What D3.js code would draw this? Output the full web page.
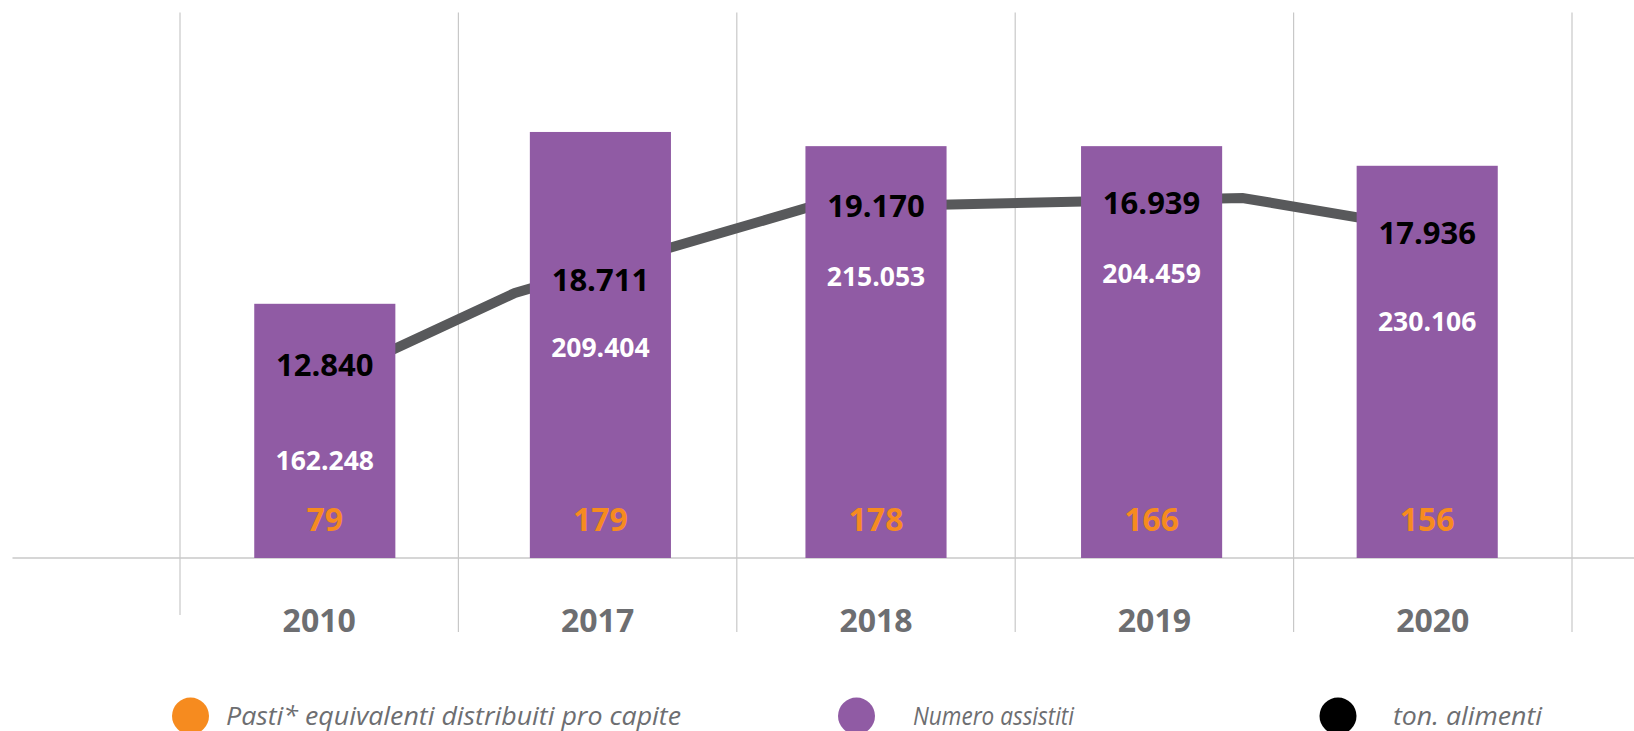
<!DOCTYPE html>
<html>
<head>
<meta charset="utf-8">
<script src="https://cdn.jsdelivr.net/npm/d3@7"></script>
<style>
  body { margin: 0; background: #fff; }
  text { font-family: "Open Sans", sans-serif; }
</style>
</head>
<body>
<div id="plot"></div>
<script>
// values printed on the chart
const years = ["2010", "2017", "2018", "2019", "2020"];
const pastiProCapite = [79, 179, 178, 166, 156];
const numeroAssistiti = [162248, 209404, 215053, 204459, 230106];
const tonAlimenti = [12840, 18711, 19170, 16939, 17936];

// bar heights and the grey line are decorative in the original,
// read off the picture as % of the plot height
const barLevel = [46.6, 78.1, 75.5, 75.5, 71.9];
const linePos = [0, 0.69, 1.75, 3.33, 4];
const lineLevel = [32.4, 48.6, 64.2, 66.0, 60.3];

const seriesNames = ["Pasti* equivalenti distribuiti pro capite", "Numero assistiti", "ton. alimenti"];

const W = 1634, H = 731;
const purple = "#905BA4", orange = "#F68B1F", lineGrey = "#58595B", textGrey = "#6D6E71", gridGrey = "#C8C8C8";

const it = d3.formatLocale({ decimal: ",", thousands: ".", grouping: [3], currency: ["", "€"] });
const fmt = it.format(",d");

const svg = d3.select("#plot")
              .append("svg")
              .attr("width", W)
              .attr("height", H)
              .style("display", "block");

// scales
const x = d3.scaleBand()
            .domain(years)
            .range([187, 1565])
            .paddingInner(0.488)
            .paddingOuter(0.244);
const xGrid = d3.scaleBand()
                .domain(years)
                .range([180, 1572]);
const y = d3.scaleLinear()
            .domain([0, 100])
            .range([558, 12.5]);
const xLine = d3.scaleLinear()
                .domain([0, years.length - 1])
                .range([x(years[0]) + x.bandwidth() / 2, x(years[years.length - 1]) + x.bandwidth() / 2]);

// vertical grid lines at category boundaries
const bounds = years.map(d => xGrid(d)).concat([xGrid(years[years.length - 1]) + xGrid.bandwidth()]);
svg.selectAll("line.vgrid")
   .data(bounds)
   .enter()
   .append("line")
   .attr("class", "vgrid")
   .attr("x1", d => d)
   .attr("x2", d => d)
   .attr("y1", y(100))
   .attr("y2", (d, i) => i === 0 ? 615 : 632)
   .attr("stroke", gridGrey)
   .attr("stroke-width", 1.2);

// baseline
svg.append("line")
   .attr("x1", 12.5)
   .attr("x2", W)
   .attr("y1", y(0))
   .attr("y2", y(0))
   .attr("stroke", gridGrey)
   .attr("stroke-width", 1.5);

// grey line (behind bars)
const line = d3.line()
               .x(d => xLine(d[0]))
               .y(d => y(d[1]));
svg.append("path")
   .datum(d3.zip(linePos, lineLevel))
   .attr("d", line)
   .attr("fill", "none")
   .attr("stroke", lineGrey)
   .attr("stroke-width", 10);

// bars
svg.selectAll("rect.bar")
   .data(years)
   .enter()
   .append("rect")
   .attr("class", "bar")
   .attr("x", d => x(d))
   .attr("y", (d, i) => y(barLevel[i]))
   .attr("width", x.bandwidth())
   .attr("height", (d, i) => y(0) - y(barLevel[i]))
   .attr("fill", purple);

// label placement inside the bars (baselines, px)
const tonBaseline = [376, 291, 217, 214, 244];
const assistitiBaseline = [470, 357, 286, 283, 331];
const pastiBaseline = 531;
const cx = d => x(d) + x.bandwidth() / 2;

svg.selectAll("text.ton")
   .data(years)
   .enter()
   .append("text")
   .attr("class", "ton")
   .attr("x", cx)
   .attr("y", (d, i) => tonBaseline[i])
   .attr("text-anchor", "middle")
   .attr("font-size", "31px")
   .attr("font-weight", 700)
   .attr("fill", "#000")
   .text((d, i) => fmt(tonAlimenti[i]));

svg.selectAll("text.assistiti")
   .data(years)
   .enter()
   .append("text")
   .attr("class", "assistiti")
   .attr("x", cx)
   .attr("y", (d, i) => assistitiBaseline[i])
   .attr("text-anchor", "middle")
   .attr("font-size", "26.5px")
   .attr("font-weight", 700)
   .attr("fill", "#fff")
   .text((d, i) => fmt(numeroAssistiti[i]));

svg.selectAll("text.pasti")
   .data(years)
   .enter()
   .append("text")
   .attr("class", "pasti")
   .attr("x", cx)
   .attr("y", pastiBaseline)
   .attr("text-anchor", "middle")
   .attr("font-size", "32px")
   .attr("font-weight", 700)
   .attr("fill", orange)
   .text((d, i) => pastiProCapite[i]);

// year labels
svg.selectAll("text.year")
   .data(years)
   .enter()
   .append("text")
   .attr("class", "year")
   .attr("x", d => xGrid(d) + xGrid.bandwidth() / 2)
   .attr("y", 632)
   .attr("text-anchor", "middle")
   .attr("font-size", "32px")
   .attr("font-weight", 700)
   .attr("fill", textGrey)
   .text(d => d);

// legend
const legendColors = [orange, purple, "#000"];
const legendCx = [190.5, 856.5, 1338];
const legendTx = [226, 913, 1393];
const legendLen = [455, 161, 149];
const legend = svg.selectAll("g.legend")
                  .data(seriesNames)
                  .enter()
                  .append("g")
                  .attr("class", "legend");
legend.append("circle")
      .attr("cx", (d, i) => legendCx[i])
      .attr("cy", 716)
      .attr("r", 18.5)
      .attr("fill", (d, i) => legendColors[i]);
legend.append("text")
      .attr("x", (d, i) => legendTx[i])
      .attr("y", 725)
      .attr("font-size", "25px")
      .attr("font-style", "italic")
      .attr("fill", textGrey)
      .attr("textLength", (d, i) => legendLen[i])
      .attr("lengthAdjust", "spacingAndGlyphs")
      .text(d => d);
</script>
</body>
</html>
